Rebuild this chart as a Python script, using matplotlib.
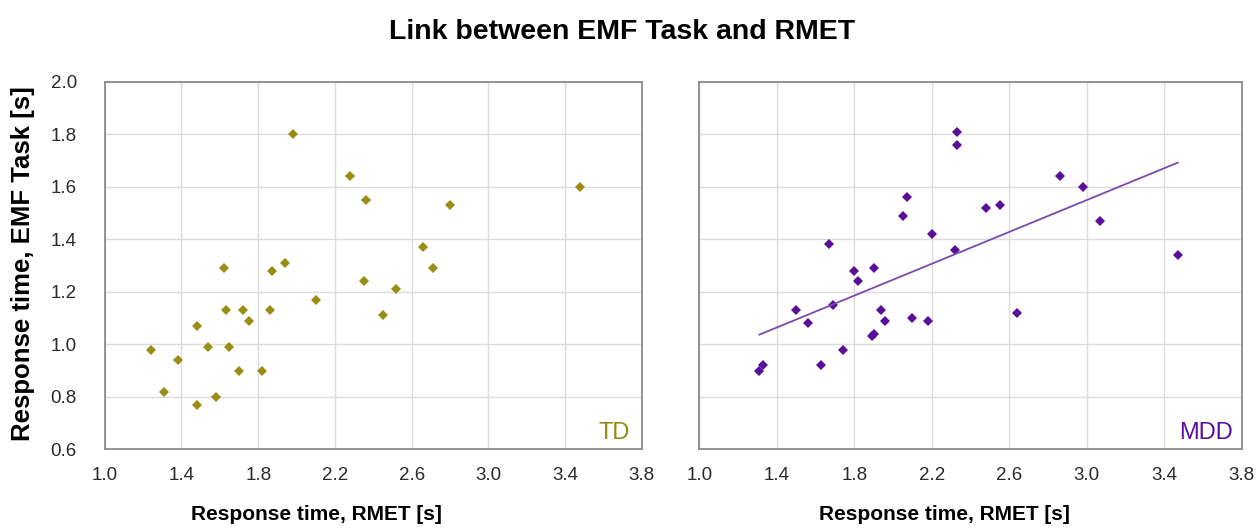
import matplotlib
matplotlib.use('Agg')
import matplotlib.pyplot as plt
import numpy as np

plt.rcParams['font.family'] = ['Liberation Sans', 'DejaVu Sans']

# TD group: RMET response time vs EMF task response time
td_rmet = [1.98, 2.28, 2.36, 1.62, 1.87, 1.94, 2.35, 2.52, 2.10, 2.45,
           1.63, 1.72, 1.75, 1.86, 1.48, 1.24, 1.54, 1.65, 1.38, 1.70,
           1.82, 1.31, 1.58, 1.48, 3.48, 2.80, 2.66, 2.71]
td_emf = [1.80, 1.64, 1.55, 1.29, 1.28, 1.31, 1.24, 1.21, 1.17, 1.11,
          1.13, 1.13, 1.09, 1.13, 1.07, 0.98, 0.99, 0.99, 0.94, 0.90,
          0.90, 0.82, 0.80, 0.77, 1.60, 1.53, 1.37, 1.29]

# MDD group
mdd_rmet = [2.33, 2.33, 2.07, 2.05, 2.20, 2.32, 1.67, 1.80, 1.82, 1.90,
            1.50, 1.69, 1.56, 1.94, 1.96, 2.10, 2.18, 1.89, 1.90, 1.74,
            1.63, 1.31, 1.33, 2.48, 2.55, 2.86, 2.98, 3.07, 3.47, 2.64]
mdd_emf = [1.81, 1.76, 1.56, 1.49, 1.42, 1.36, 1.38, 1.28, 1.24, 1.29,
           1.13, 1.15, 1.08, 1.13, 1.09, 1.10, 1.09, 1.03, 1.04, 0.98,
           0.92, 0.90, 0.92, 1.52, 1.53, 1.64, 1.60, 1.47, 1.34, 1.12]

x_ticks = [1.0, 1.4, 1.8, 2.2, 2.6, 3.0, 3.4, 3.8]
y_ticks = [0.6, 0.8, 1.0, 1.2, 1.4, 1.6, 1.8, 2.0]

td_color = '#9a8d14'
mdd_color = '#5a0e9c'
fit_color = '#7d4aae'

fig = plt.figure(figsize=(12.56, 5.28), dpi=100)
ax1 = fig.add_axes([0.0834, 0.149, 0.4276, 0.6963])
ax2 = fig.add_axes([0.5568, 0.149, 0.4318, 0.6963])

for ax in (ax1, ax2):
    ax.set_xlim(1.0, 3.8)
    ax.set_ylim(0.6, 2.0)
    ax.set_xticks(x_ticks)
    ax.set_yticks(y_ticks)
    ax.set_xticklabels(['%.1f' % t for t in x_ticks])
    ax.grid(True, color='#dcdcdc', linewidth=1.0)
    ax.set_axisbelow(True)
    ax.tick_params(length=0, labelsize=13.5, colors='#2a2a2a', pad=13)
    for s in ax.spines.values():
        s.set_color('#8c8c8c')
        s.set_linewidth(1.3)

ax1.set_yticklabels(['%.1f' % t for t in y_ticks])
ax1.tick_params(axis='y', pad=20)
ax2.set_yticklabels([])

ax1.plot(td_rmet, td_emf, linestyle='none', marker='D', ms=5.0,
         mew=0, color=td_color)
ax2.plot(mdd_rmet, mdd_emf, linestyle='none', marker='D', ms=5.0,
         mew=0, color=mdd_color)

# linear trend for the MDD group
slope, intercept = np.polyfit(mdd_rmet, mdd_emf, 1)
xs = np.array([min(mdd_rmet), max(mdd_rmet)])
ax2.plot(xs, slope * xs + intercept, color=fit_color, linewidth=1.3)

ax1.text(0.977, 0.028, 'TD', transform=ax1.transAxes, ha='right',
         va='baseline', fontsize=17, color='#8a8a14')
ax2.text(0.983, 0.028, 'MDD', transform=ax2.transAxes, ha='right',
         va='baseline', fontsize=17, color=mdd_color)

fig.text(0.4955, 0.94, 'Link between EMF Task and RMET', ha='center',
         va='center', fontsize=20.5, fontweight='bold')
fig.text(0.252, 0.025, 'Response time, RMET [s]', ha='center', va='center',
         fontsize=15, fontweight='bold')
fig.text(0.752, 0.025, 'Response time, RMET [s]', ha='center', va='center',
         fontsize=15, fontweight='bold')
fig.text(0.018, 0.50, 'Response time, EMF Task [s]', ha='center',
         va='center', rotation=90, fontsize=18.5, fontweight='bold')

fig.savefig('out.png', dpi=100, facecolor='white')
